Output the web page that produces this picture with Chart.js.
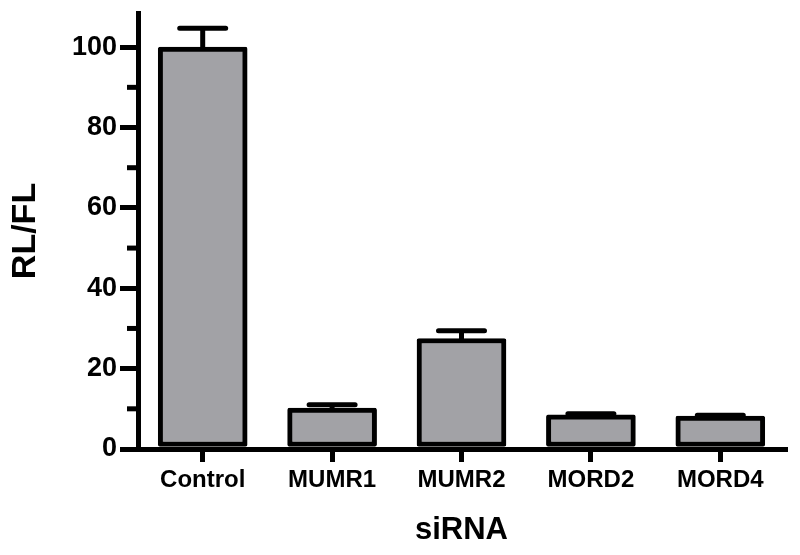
<!DOCTYPE html>
<html>
<head>
<meta charset="utf-8">
<script src="https://cdn.jsdelivr.net/npm/chart.js@4.4.1/dist/chart.umd.min.js"></script>
<style>
  html, body { margin: 0; padding: 0; background: #ffffff; }
  #wrap { width: 800px; height: 555px; position: relative; }
</style>
</head>
<body>
<div id="wrap"><canvas id="c"></canvas></div>
<script>
const categories = ["Control", "MUMR1", "MUMR2", "MORD2", "MORD4"];
const values = [100, 10.2, 27.5, 8.5, 8.2];
const errors = [4.7, 0.8, 1.9, 0.3, 0.2];
const majorTicks = [0, 20, 40, 60, 80, 100];
const minorTicks = [10, 30, 50, 70, 90];
const yMax = 108.5;

const FONT = "'Liberation Sans', Arial, Helvetica, sans-serif";

const errorBarPlugin = {
  id: 'errorBars',
  afterDatasetsDraw(chart) {
    const ctx = chart.ctx;
    const meta = chart.getDatasetMeta(0);
    const yScale = chart.scales.y;
    ctx.save();
    ctx.strokeStyle = '#000';
    ctx.lineWidth = 5;
    ctx.lineCap = 'round';
    meta.data.forEach((bar, i) => {
      const x = bar.x;
      const yTop = yScale.getPixelForValue(values[i] + errors[i]);
      const yBase = yScale.getPixelForValue(values[i]);
      ctx.beginPath();
      ctx.moveTo(x, yBase);
      ctx.lineTo(x, yTop);
      ctx.moveTo(x - 23, yTop);
      ctx.lineTo(x + 23, yTop);
      ctx.stroke();
    });
    ctx.restore();
  }
};

const minorTickPlugin = {
  id: 'minorTicks',
  afterDraw(chart) {
    const ctx = chart.ctx;
    const yScale = chart.scales.y;
    const xAxis = chart.chartArea.left;
    ctx.save();
    ctx.strokeStyle = '#000';
    ctx.lineWidth = 5;
    minorTicks.forEach(v => {
      const py = yScale.getPixelForValue(v);
      ctx.beginPath();
      ctx.moveTo(xAxis - 11, py);
      ctx.lineTo(xAxis, py);
      ctx.stroke();
    });
    ctx.restore();
  }
};

new Chart(document.getElementById('c'), {
  type: 'bar',
  data: {
    labels: categories,
    datasets: [{
      data: values,
      backgroundColor: '#a2a2a6',
      borderColor: '#000000',
      borderWidth: 5,
      borderSkipped: false,
      borderRadius: 2,
      barThickness: 89
    }]
  },
  options: {
    responsive: true,
    maintainAspectRatio: false,
    animation: false,
    devicePixelRatio: 1,
    layout: { padding: { top: 13, right: 15, left: 0, bottom: 0 } },
    plugins: {
      legend: { display: false },
      tooltip: { enabled: false }
    },
    scales: {
      x: {
        afterFit(scale) {
          scale.height = 106;
          scale.paddingLeft = 0;
          scale.paddingRight = 0;
        },
        grid: {
          display: true,
          drawOnChartArea: false,
          offset: false,
          tickLength: 13,
          lineWidth: 5,
          color: '#000'
        },
        border: { display: true, color: '#000', width: 5 },
        ticks: {
          color: '#000',
          padding: 4,
          font: { family: FONT, size: 24, weight: 'bold' },
          maxRotation: 0
        },
        title: {
          display: true,
          text: 'siRNA',
          color: '#000',
          font: { family: FONT, size: 31, weight: 'bold' },
          padding: { top: 0, bottom: 6 }
        }
      },
      y: {
        min: 0,
        max: yMax,
        afterFit(scale) {
          scale.width = 138;
          scale.paddingTop = 0;
          scale.paddingBottom = 0;
        },
        afterBuildTicks(scale) {
          scale.ticks = majorTicks.map(v => ({ value: v }));
        },
        grid: {
          display: true,
          drawOnChartArea: false,
          tickLength: 18,
          lineWidth: 5,
          color: '#000'
        },
        border: { display: true, color: '#000', width: 5 },
        ticks: {
          color: '#000',
          padding: 3,
          font: { family: FONT, size: 27, weight: 'bold' }
        },
        title: {
          display: true,
          text: 'RL/FL',
          color: '#000',
          font: { family: FONT, size: 34, weight: 'bold' },
          padding: { top: 5, bottom: 0 }
        }
      }
    }
  },
  plugins: [errorBarPlugin, minorTickPlugin]
});
</script>
</body>
</html>
